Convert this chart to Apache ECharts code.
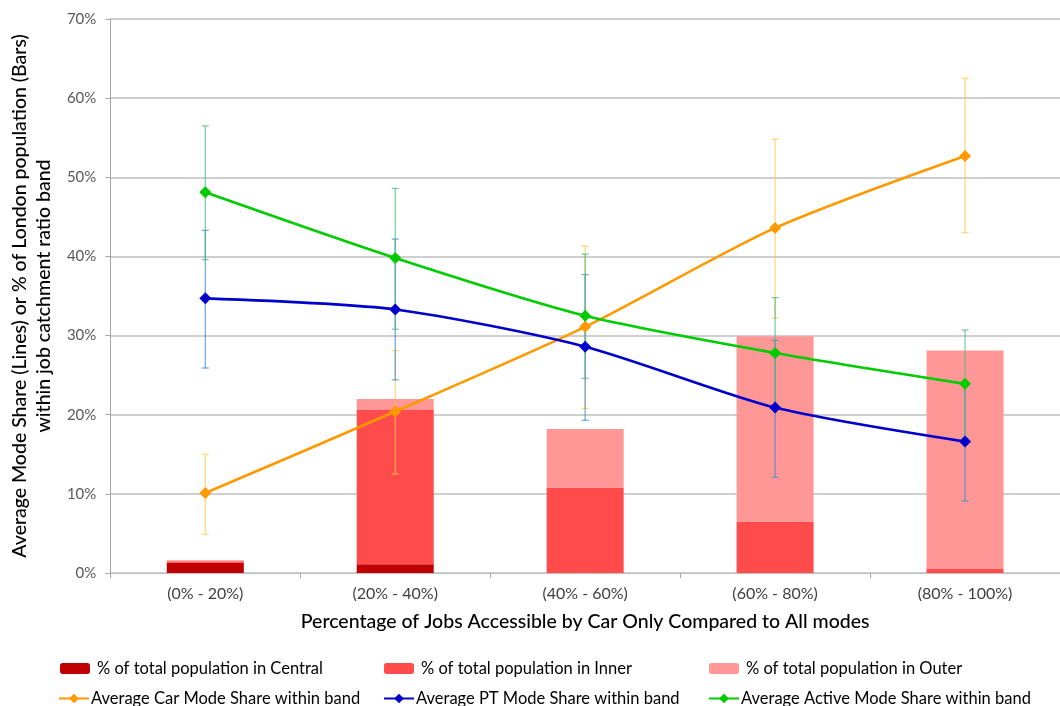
<!DOCTYPE html>
<html>
<head>
<meta charset="utf-8">
<script src="https://cdn.jsdelivr.net/npm/echarts@6/dist/echarts.min.js"></script>
<style>
  html, body { margin: 0; padding: 0; background: #fff; }
  #chart { width: 1060px; height: 706px; }
</style>
</head>
<body>
<div id="chart"></div>
<script>
// Job catchment ratio bands
const categories = ['(0% - 20%)', '(20% - 40%)', '(40% - 60%)', '(60% - 80%)', '(80% - 100%)'];

// Share of London population in each band (stacked bars, %)
const popCentral = [1.3, 1.1, 0.0, 0.0, 0.0];
const popInner   = [0.2, 19.5, 10.8, 6.5, 0.5];
const popOuter   = [0.1, 1.4, 7.4, 23.4, 27.6];

// Average mode share within band (lines, %) with error-bar limits
const carShare    = [10.1, 20.4, 31.1, 43.6, 52.7];
const carLow      = [4.9, 12.5, 20.8, 32.2, 43.0];
const carHigh     = [15.0, 28.1, 41.3, 54.8, 62.5];

const ptShare     = [34.7, 33.3, 28.6, 20.9, 16.6];
const ptLow       = [25.9, 24.4, 19.3, 12.1, 9.1];
const ptHigh      = [43.3, 42.2, 37.7, 29.4, 24.1];

const activeShare = [48.1, 39.8, 32.5, 27.8, 23.9];
const activeLow   = [39.6, 30.8, 24.6, 20.8, 17.1];
const activeHigh  = [56.5, 48.6, 40.3, 34.8, 30.7];

const yTicks = [0, 10, 20, 30, 40, 50, 60, 70];

const FONT = 'Lato';

const names = {
  central: '% of total population in Central',
  inner: '% of total population in Inner',
  outer: '% of total population in Outer',
  car: 'Average Car Mode Share within band',
  pt: 'Average PT Mode Share within band',
  active: 'Average Active Mode Share within band'
};

function errorData(low, high) {
  return low.map((v, i) => [i, v, high[i]]);
}

function errorSeries(low, high, color) {
  return {
    type: 'custom',
    z: 3,
    silent: true,
    data: errorData(low, high),
    encode: { x: 0, y: [1, 2] },
    renderItem: function (params, api) {
      const lo = api.coord([api.value(0), api.value(1)]);
      const hi = api.coord([api.value(0), api.value(2)]);
      const w = 3.5;
      const style = { stroke: color, lineWidth: 1.2 };
      return {
        type: 'group',
        children: [
          { type: 'line', shape: { x1: hi[0], y1: hi[1], x2: lo[0], y2: lo[1] }, style: style },
          { type: 'line', shape: { x1: hi[0] - w, y1: hi[1], x2: hi[0] + w, y2: hi[1] }, style: style },
          { type: 'line', shape: { x1: lo[0] - w, y1: lo[1], x2: lo[0] + w, y2: lo[1] }, style: style }
        ]
      };
    }
  };
}

function lineSeries(name, data, color) {
  return {
    name: name,
    type: 'line',
    z: 4,
    data: data,
    smooth: 0.25,
    symbol: 'diamond',
    symbolSize: 12,
    lineStyle: { color: color, width: 2.6 },
    itemStyle: { color: color },
    emphasis: { disabled: true }
  };
}

function barSeries(name, data, color) {
  return {
    name: name,
    type: 'bar',
    stack: 'pop',
    z: 2,
    barWidth: 77,
    data: data,
    itemStyle: { color: color },
    emphasis: { disabled: true }
  };
}

function legendAt(name, left, top, isLine) {
  return {
    data: [name],
    left: left,
    top: top,
    padding: 0,
    itemWidth: 30,
    itemHeight: isLine ? 12 : 11,
    itemGap: 0,
    selectedMode: false,
    textStyle: { fontFamily: FONT, fontSize: 16.5, color: '#000', padding: [0, 0, 0, isLine ? -3 : 2] }
  };
}

const option = {
  backgroundColor: '#ffffff',
  animation: false,
  textStyle: { fontFamily: FONT },
  grid: { left: 109, top: 19, width: 961, height: 554, containLabel: false },
  legend: [
    legendAt(names.central, 60, 660, false),
    legendAt(names.inner, 384, 660, false),
    legendAt(names.outer, 709, 660, false),
    legendAt(names.car, 58, 690, true),
    legendAt(names.pt, 383, 690, true),
    legendAt(names.active, 708, 690, true)
  ],
  xAxis: {
    type: 'category',
    data: categories,
    boundaryGap: true,
    name: 'Percentage of Jobs Accessible by Car Only Compared to All modes',
    nameLocation: 'middle',
    nameGap: 39,
    nameTextStyle: { fontFamily: FONT, fontSize: 19.5, color: '#000', fontWeight: 500 },
    axisLine: { lineStyle: { color: '#BFBFBF', width: 1 } },
    axisTick: { show: true, length: 5, lineStyle: { color: '#A6A6A6' } },
    axisLabel: { fontFamily: FONT, fontSize: 16, color: '#404040', margin: 13 }
  },
  yAxis: {
    type: 'value',
    min: yTicks[0],
    max: yTicks[yTicks.length - 1],
    interval: 10,
    name: 'Average Mode Share (Lines) or % of London population (Bars)\nwithin job catchment ratio band',
    nameLocation: 'middle',
    nameGap: 51,
    nameTextStyle: { fontFamily: FONT, fontSize: 19.5, color: '#000', lineHeight: 24, align: 'center', fontWeight: 500 },
    axisLine: { show: true, lineStyle: { color: '#A6A6A6', width: 1 } },
    axisTick: { show: true, length: 5, lineStyle: { color: '#A6A6A6' } },
    axisLabel: { fontFamily: FONT, fontSize: 15, color: '#595959', margin: 14, formatter: '{value}%' },
    splitLine: { lineStyle: { color: '#BFBFBF', width: 1.5 } }
  },
  series: [
    barSeries(names.central, popCentral, '#C00000'),
    barSeries(names.inner, popInner, '#FF4B4B'),
    barSeries(names.outer, popOuter, '#FF9797'),
    errorSeries(carLow, carHigh, 'rgba(255, 200, 70, 0.75)'),
    errorSeries(ptLow, ptHigh, 'rgba(70, 140, 210, 0.8)'),
    errorSeries(activeLow, activeHigh, 'rgba(70, 185, 120, 0.75)'),
    lineSeries(names.car, carShare, '#FF9900'),
    lineSeries(names.pt, ptShare, '#0000CC'),
    lineSeries(names.active, activeShare, '#00CC00')
  ]
};

const chart = echarts.init(document.getElementById('chart'), null, { renderer: 'canvas' });
chart.setOption(option);
</script>
</body>
</html>
